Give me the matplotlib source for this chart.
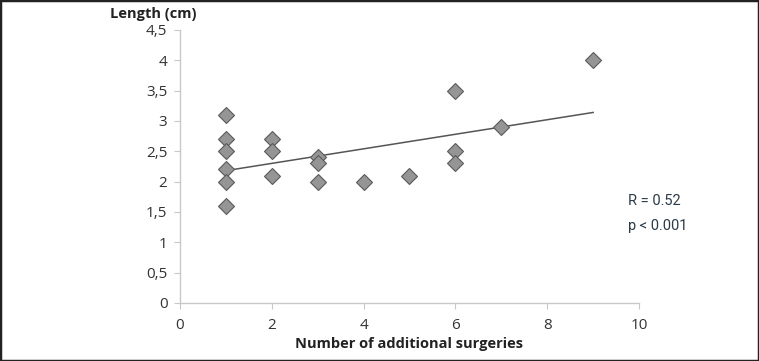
import matplotlib
matplotlib.use("Agg")
import matplotlib.pyplot as plt
from matplotlib.patches import Rectangle
import numpy as np

# Data
surgeries = [1, 1, 1, 1, 1, 1, 2, 2, 2, 3, 3, 3, 4, 5, 6, 6, 6, 7, 9]
length_cm = [3.1, 2.7, 2.5, 2.2, 2.0, 1.6, 2.7, 2.5, 2.1, 2.4, 2.3, 2.0, 2.0, 2.1, 3.5, 2.5, 2.3, 2.9, 4.0]
trend_x = [1, 9]
trend_y = [2.18, 3.14]
x_ticks = [0, 2, 4, 6, 8, 10]
y_ticks = [0, 0.5, 1, 1.5, 2, 2.5, 3, 3.5, 4, 4.5]
y_tick_labels = ["0", "0,5", "1", "1,5", "2", "2,5", "3", "3,5", "4", "4,5"]
stats_text = ["R = 0.52", "p < 0.001"]

plt.rcParams['font.family'] = ['Open Sans', 'DejaVu Sans']

fig = plt.figure(figsize=(7.59, 3.61), dpi=100)
fig.patches.append(Rectangle((0, 0), 1, 1, transform=fig.transFigure,
                             fill=False, edgecolor='#222222', linewidth=2.5))
ax = fig.add_axes([0.237, 0.161, 0.605, 0.756])

ax.plot(trend_x, trend_y, color='#555555', linewidth=1.1, zorder=2)
ax.plot(surgeries, length_cm, linestyle='none', marker='D', markersize=8.5,
        markerfacecolor='#959595', markeredgecolor='#5a5a5a', markeredgewidth=0.8, zorder=3)

ax.set_xlim(0, 10)
ax.set_ylim(0, 4.5)
ax.set_xticks(x_ticks)
ax.set_yticks(y_ticks)
ax.set_yticklabels(y_tick_labels)

for s in ['top', 'right']:
    ax.spines[s].set_visible(False)
for s in ['left', 'bottom']:
    ax.spines[s].set_color('#c8c8c8')
    ax.spines[s].set_linewidth(1.0)
ax.tick_params(axis='both', colors='#c8c8c8', labelcolor='#333333', labelsize=11,
               length=4, direction='out')
ax.tick_params(axis='y', pad=5)
ax.tick_params(axis='x', pad=7)

fig.text(0.202, 0.96, "Length (cm)", ha='center', va='center', fontsize=10.5,
         fontweight='bold', color='#222222')
ax.set_xlabel("Number of additional surgeries", fontsize=10.5, fontweight='bold',
              color='#222222', labelpad=3)

fig.text(0.827, 0.443, stats_text[0], ha='left', va='center', fontsize=10.5,
         color='#2b3a48', family=['Roboto', 'DejaVu Sans'])
fig.text(0.827, 0.374, stats_text[1], ha='left', va='center', fontsize=10.5,
         color='#2b3a48', family=['Roboto', 'DejaVu Sans'])

fig.savefig("out.png", dpi=100)
